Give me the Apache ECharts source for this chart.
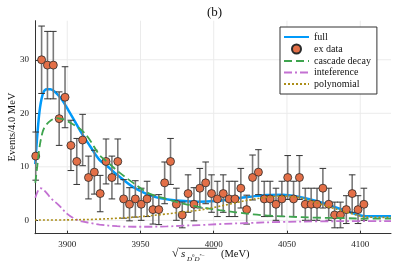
<!DOCTYPE html>
<html><head><meta charset="utf-8">
<script src="https://cdn.jsdelivr.net/npm/echarts@6/dist/echarts.min.js"></script>
<style>html,body{margin:0;padding:0;background:#fff}#c{width:399px;height:266px}</style>
</head><body><div id="c"></div>
<script>
const binCenters = [3878.5,3882.5,3886.5,3890.5,3894.5,3898.5,3902.5,3906.5,3910.5,3914.5,
  3918.5,3922.5,3926.5,3930.5,3934.5,3938.5,3942.5,3946.5,3950.5,3954.5,
  3958.5,3962.5,3966.5,3970.5,3974.5,3978.5,3982.5,3986.5,3990.5,3994.5,
  3998.5,4002.5,4006.5,4010.5,4014.5,4018.5,4022.5,4026.5,4030.5,4034.5,
  4038.5,4042.5,4046.5,4050.5,4054.5,4058.5,4062.5,4066.5,4070.5,4074.5,
  4078.5,4082.5,4086.5,4090.5,4094.5,4098.5,4102.5];
const counts = [12,30,29,29,19,23,14,11,15,8, 9,5,11,8,11,4,3,4,3,4, 2,2,7,11,3,1,5,3,6,7,
  5,4,5,4,4,6,2,8,9,4, 4,3,4,8,4,8,3,3,3,6, 3,1,1,2,5,2,3];
const errors = [4.5,6.3,6.3,6.3,5.0,5.7,4.7,4.3,4.8,4.0, 4.1,3.4,4.2,4.0,4.2,3.6,3.1,3.4,3.0,3.3,
  2.7,2.8,3.9,4.3,3.0,2.4,3.5,3.1,3.7,3.9, 3.5,3.3,3.5,3.3,3.3,3.7,2.7,4.2,4.2,3.3,
  3.3,3.0,3.3,4.1,3.3,4.1,3.0,3.0,3.0,3.7, 3.0,2.4,2.4,2.6,3.5,2.6,3.0];
const fullCurve = [[3878.2,10.5],[3879.6,16],[3881.4,21],[3883.6,23.8],[3886,24.5],[3888.5,24.5],[3891.6,24],
  [3896.2,22.6],[3900.7,20.6],[3905.2,18.5],[3910,16.2],[3915.5,13.9],[3922,11.3],[3927,10.2],[3934,8.5],
  [3940,7.2],[3945,6.2],[3950,5.5],[3957,4.6],[3963,4.15],[3970,3.85],[3980,3.6],[3990,3.45],[4001,3.6],
  [4013,4.0],[4024.5,4.4],[4036,4.75],[4047,4.8],[4058.6,4.35],[4070,3.6],[4081.3,2.6],[4092.7,1.55],
  [4099.5,0.95],[4104,0.75],[4121,0.75]];
const cascadeCurve = [[3878.2,7],[3879.5,10],[3881,13.5],[3883,16.3],[3885,17.6],[3889,18.7],[3893,19.1],
  [3898,18.8],[3903,18.1],[3910,16.8],[3915,15.2],[3922,12.2],[3927,11],[3934,9.3],[3945,7.0],[3956,5.0],
  [3968,4.0],[3979,3.1],[3990,2.5],[4004,1.9],[4015,1.5],[4027,1.1],[4036,0.9],[4050,0.7],[4070,0.5],
  [4090,0.4],[4104,0.3],[4121,0.3]];
const interfCurve = [[3878.2,4.2],[3880,5.5],[3881.5,6.0],[3883,5.9],[3886,5.1],[3889,4.1],[3894,2.9],
  [3900,1.2],[3905,0.3],[3910,-0.2],[3916,-0.5],[3922,-0.8],[3934,-1.1],[3945,-1.2],[3956,-1.2],
  [3968,-1.15],[3979,-1.0],[3990,-0.9],[4004,-0.7],[4024,-0.5],[4047,-0.3],[4070,-0.2],[4100,-0.15],[4121,-0.15]];
const polyCurve = [[3878,0.05],[3900,0.08],[3920,0.2],[3935,0.4],[3950,0.7],[3965,1.1],[3980,1.6],[3990,1.9],
  [4000,2.4],[4012,3.1],[4024,3.8],[4036,4.3],[4047,4.5],[4059,4.2],[4070,3.3],[4081,2.3],[4093,1.35],
  [4100,0.8],[4104,0.6],[4121,0.55]];
const xTicks = [3900,3950,4000,4050,4100];
const yTicks = [0,10,20,30];
const xMin = 3878, xMax = 4121, yMin = -2.5, yMax = 37.3;

const SERIF = "'Liberation Serif','DejaVu Serif',serif";
const chart = echarts.init(document.getElementById('c'), null, {renderer:'canvas'});

const lineSeries = (name, data, color, width, type, z) => ({
  name, type:'line', data, smooth:0.35, symbol:'none', showSymbol:false, z,
  lineStyle:{color, width, type}, itemStyle:{color}, animation:false, clip:true
});
const hideSym = {opacity:0};

chart.setOption({
  animation:false,
  title:{text:'(b)', left:202, top:1, textStyle:{fontFamily:SERIF, fontSize:13, fontWeight:'normal', color:'#111'}},
  grid:{left:35, right:8, top:20.7, bottom:32.3, containLabel:false},
  xAxis:{type:'value', min:xMin, max:xMax,
    axisLine:{show:true, onZero:false, lineStyle:{color:'#333', width:1}},
    axisTick:{show:true, inside:true, length:3, customValues:xTicks, lineStyle:{color:'#333'}},
    axisLabel:{customValues:xTicks, formatter:v=>String(v), fontFamily:SERIF, fontSize:9, color:'#222', margin:6},
    splitLine:{show:false}},
  yAxis:{type:'value', min:yMin, max:yMax,
    axisLine:{show:true, onZero:false, lineStyle:{color:'#333', width:1}},
    axisTick:{show:true, inside:true, length:3, customValues:yTicks, lineStyle:{color:'#333'}},
    axisLabel:{customValues:yTicks, formatter:v=>String(v), fontFamily:SERIF, fontSize:9, color:'#222', margin:6},
    splitLine:{show:false}},
  legend:{
    orient:'vertical', left:280, top:27, backgroundColor:'#fff', borderColor:'#333', borderWidth:1,
    borderRadius:0, padding:[5,6,5,3], itemGap:1.5, itemWidth:25, itemHeight:9,
    textStyle:{fontFamily:SERIF, fontSize:10, color:'#111', lineHeight:10},
    data:[{name:'full', itemStyle:hideSym},{name:'ex data', icon:'circle'},{name:'cascade decay', itemStyle:hideSym},
      {name:'inteference', itemStyle:hideSym},{name:'polynomial', itemStyle:hideSym}]
  },
  graphic:[
    {type:'text', x:12, y:127, rotation:Math.PI/2, style:{text:'Events/4.0 MeV', fontFamily:SERIF, fontSize:10.5, fill:'#111', align:'center', verticalAlign:'middle'}},
    {type:'text', x:172, y:254, style:{text:'√', fontFamily:SERIF, fontSize:12, fill:'#111', verticalAlign:'middle'}},
    {type:'line', shape:{x1:179, y1:248.3, x2:217, y2:248.3}, style:{stroke:'#111', lineWidth:0.8}},
    {type:'text', x:181, y:254, style:{text:'s', fontFamily:SERIF, fontStyle:'italic', fontSize:11, fill:'#111', verticalAlign:'middle'}},
    {type:'text', x:187, y:258, style:{text:'{b|D}{p|0}{b|D}{p|*−}', verticalAlign:'middle', rich:{
      b:{fontFamily:SERIF, fontStyle:'italic', fontSize:7, fill:'#111', verticalAlign:'bottom', lineHeight:9},
      p:{fontFamily:SERIF, fontSize:5, fill:'#111', verticalAlign:'top', lineHeight:9}}}},
    {type:'text', x:221, y:254.5, style:{text:'(MeV)', fontFamily:SERIF, fontSize:10.5, fill:'#111', verticalAlign:'middle'}}
  ],
  series:[
    {type:'custom', name:'gridlines', silent:true, z:0, data:[[xMin,yMin]], clip:false,
      renderItem:function(params, api){
        const ch=[];
        xTicks.forEach(t=>{const p=api.coord([t,yMin]), q=api.coord([t,yMax]);
          ch.push({type:'line', shape:{x1:p[0],y1:p[1],x2:q[0],y2:q[1]}, style:{stroke:'#ebebeb', lineWidth:1}});});
        yTicks.forEach(t=>{const p=api.coord([xMin,t]), q=api.coord([xMax,t]);
          ch.push({type:'line', shape:{x1:p[0],y1:p[1],x2:q[0],y2:q[1]}, style:{stroke:'#ebebeb', lineWidth:1}});});
        return {type:'group', children:ch};
      }},
    lineSeries('full', fullCurve, '#009AFA', 2.5, 'solid', 2),
    {type:'custom', name:'errbars', z:3, silent:true,
      data: binCenters.map((x,i)=>[x, counts[i]-errors[i], counts[i]+errors[i]]),
      encode:{x:0, y:[1,2]},
      renderItem:function(params, api){
        const x=api.value(0); const lo=api.coord([x, api.value(1)]), hi=api.coord([x, api.value(2)]);
        const w=3.3;
        return {type:'group', children:[
          {type:'line', shape:{x1:lo[0],y1:lo[1],x2:hi[0],y2:hi[1]}, style:{stroke:'#7a7a7a', lineWidth:1.6}},
          {type:'line', shape:{x1:lo[0]-w,y1:lo[1],x2:lo[0]+w,y2:lo[1]}, style:{stroke:'#333', lineWidth:1}},
          {type:'line', shape:{x1:hi[0]-w,y1:hi[1],x2:hi[0]+w,y2:hi[1]}, style:{stroke:'#333', lineWidth:1}}
        ]};
      }},
    {type:'scatter', name:'ex data', z:4, symbol:'circle', symbolSize:8,
      data: binCenters.map((x,i)=>[x, counts[i]]),
      itemStyle:{color:'#E36F47', borderColor:'#2a2a2a', borderWidth:0.8, opacity:1}},
    lineSeries('cascade decay', cascadeCurve, '#3EA44E', 1.8, [8,4], 5),
    lineSeries('inteference', interfCurve, '#C371D2', 1.8, [8,3,2,3], 5),
    lineSeries('polynomial', polyCurve, '#AC8E18', 1.6, [2,2], 5)
  ]
});
</script></body></html>
